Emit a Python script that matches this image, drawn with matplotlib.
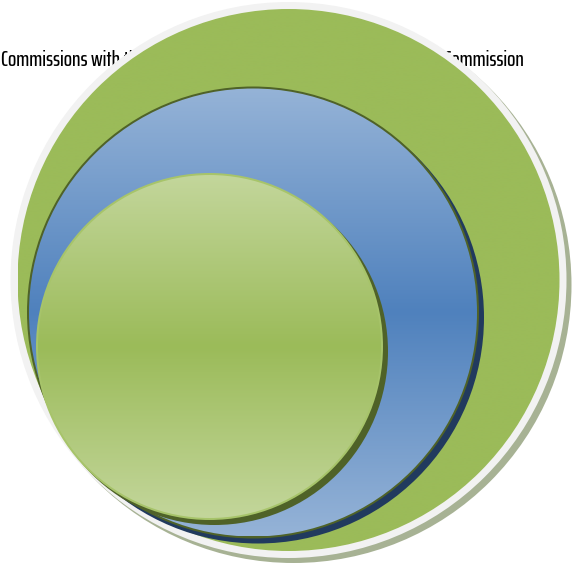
#! /usr/bin/env python3
# Nested circles diagram with a label partly hidden behind the outer circle

import numpy as np
import matplotlib

matplotlib.use("Agg")
import matplotlib.pyplot as plt
from matplotlib.colors import LinearSegmentedColormap
from matplotlib.patches import Circle

# Diagram content
label = "Commissions with the same powers as the Standing Parliamentary Commission"
names = ["outer", "middle", "inner"]
centers = [(288.5, 280.0), (253.0, 312.5), (209.5, 346.5)]
radii = [271.0, 224.0, 171.5]
fill_top = ["#9BBB59", "#95B3D7", "#C3D69B"]
fill_mid = ["#9BBB59", "#4F81BD", "#9BBB59"]
edge_colors = ["#F2F2F2", "#4F6228", "#A7C46A"]
edge_widths = [7.0, 2.0, 2.0]
shadow_colors = ["#A7B294", "#213A5E", "#4F6228"]

W, H = 576, 569
fig = plt.figure(figsize=(W / 100, H / 100), dpi=100)
ax = fig.add_axes([0, 0, 1, 1])
ax.set_xlim(0, W)
ax.set_ylim(H, 0)
ax.set_aspect("equal")
ax.axis("off")

ax.text(1, 66, label, fontsize=15.7, weight=500,
        family=["Saira ExtraCondensed", "DejaVu Sans"],
        va="baseline", ha="left", color="black", zorder=1)

z = 2
for (cx, cy), r, top, mid, ec, lw, sc in zip(centers, radii, fill_top, fill_mid,
                                              edge_colors, edge_widths, shadow_colors):
    # drop shadow, offset down-right
    off = 5.0
    ax.add_patch(Circle((cx + off, cy + off), r + lw, color=sc, lw=0, zorder=z))
    # border ring drawn as a slightly larger disc
    ax.add_patch(Circle((cx, cy), r + lw, color=ec, lw=0, zorder=z + 1))
    # vertical gradient: light at top and bottom, saturated at the middle
    cmap = LinearSegmentedColormap.from_list("g", [top, mid, top])
    grad = np.linspace(0, 1, 256)[:, None]
    body = Circle((cx, cy), r, transform=ax.transData)
    im = ax.imshow(grad, cmap=cmap, extent=(cx - r, cx + r, cy + r, cy - r),
                   aspect="auto", interpolation="bicubic", zorder=z + 2)
    im.set_clip_path(body)
    z += 3

ax.set_xlim(0, W)
ax.set_ylim(H, 0)
fig.savefig("out.png", dpi=100, facecolor="white")
